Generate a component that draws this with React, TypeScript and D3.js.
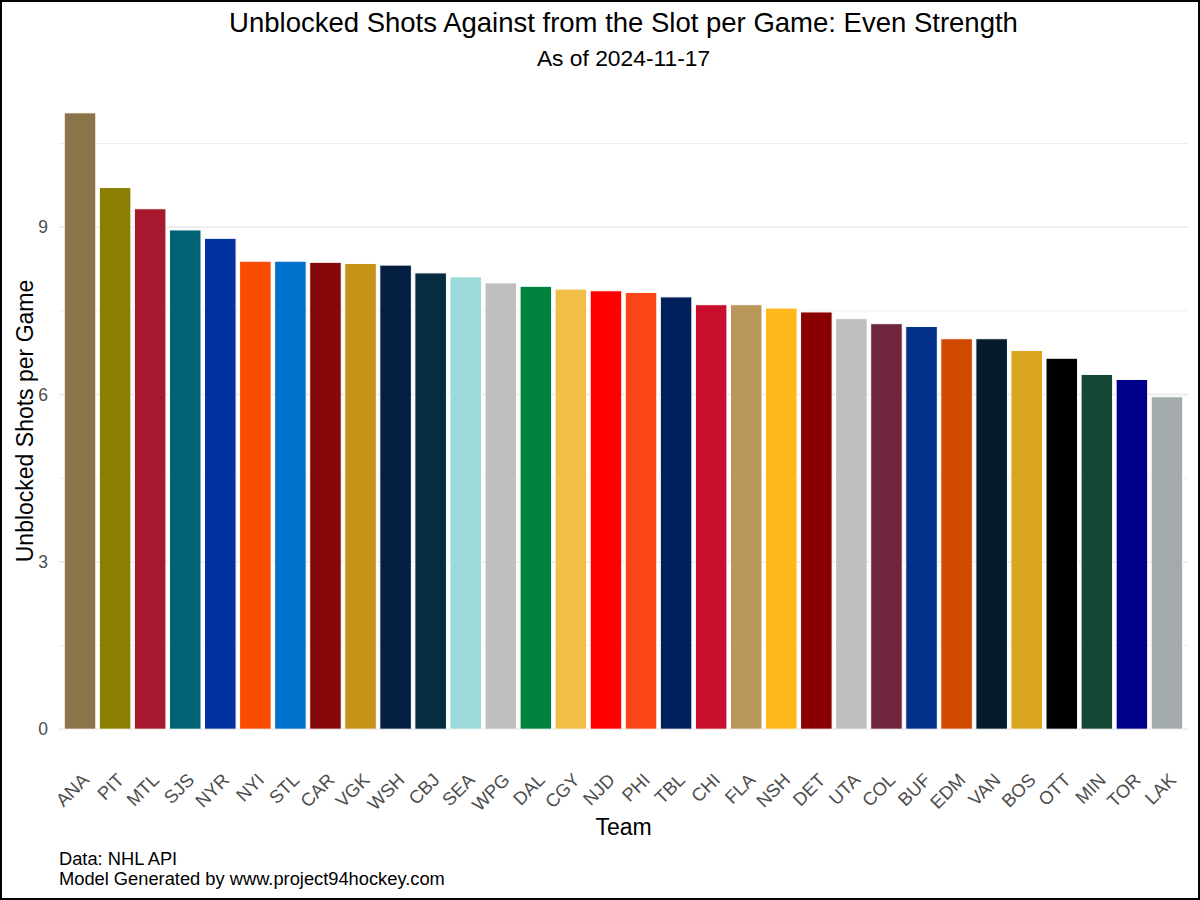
import React from 'react';
import * as d3 from 'd3';

const teams = ['ANA', 'PIT', 'MTL', 'SJS', 'NYR', 'NYI', 'STL', 'CAR', 'VGK', 'WSH', 'CBJ', 'SEA', 'WPG', 'DAL', 'CGY', 'NJD',
  'PHI', 'TBL', 'CHI', 'FLA', 'NSH', 'DET', 'UTA', 'COL', 'BUF', 'EDM', 'VAN', 'BOS', 'OTT', 'MIN', 'TOR', 'LAK'];

const shotsPerGame = [11.05, 9.71, 9.33, 8.95, 8.80, 8.39, 8.39, 8.37, 8.35, 8.32, 8.18, 8.11, 8.00, 7.94, 7.89, 7.86,
  7.83, 7.75, 7.61, 7.61, 7.55, 7.48, 7.36, 7.27, 7.22, 7.00, 7.00, 6.79, 6.65, 6.36, 6.27, 5.96];

const teamColors = ['#8B734A', '#8A7F00', '#A6192E', '#006272', '#0033A0', '#FC4C02', '#0072CE', '#870808', '#C59318',
  '#041E42', '#052C41', '#9ED9D9', '#BFBFBF', '#00843D', '#F1BE48', '#FF0000', '#FA4616', '#00205B', '#C8102E',
  '#B9975B', '#FFB81C', '#8A0000', '#BFBFBF', '#6F263D', '#003087', '#D04A02', '#041C2C', '#DAA520', '#000000',
  '#154734', '#00008B', '#A2AAAD'];

const majorTicks = [0, 3, 6, 9];
const minorTicks = [1.5, 4.5, 7.5, 10.5];

const W = 1200;
const H = 900;
const left = 59;
const right = 1188;
const top = 82;
const bottom = 760;
const font = '"Liberation Sans", Arial, sans-serif';

export default function App() {
  const yMax = d3.max(shotsPerGame) as number;
  const y = d3.scaleLinear()
    .domain([-0.05 * yMax, 1.05 * yMax])
    .range([bottom, top]);

  const x = d3.scaleBand()
    .domain(teams)
    .range([left, right])
    .paddingInner(0.1)
    .paddingOuter(0.15);

  const midX = (left + right) / 2;

  return (
    <svg width={W} height={H} style={{ position: 'absolute', left: 0, top: 0, fontFamily: font }}>
      <rect x={0} y={0} width={W} height={H} fill="#fff" />

      {/* gridlines */}
      {minorTicks.map(t => (
        <line key={'mn' + t} x1={left} x2={right} y1={y(t)} y2={y(t)} stroke="#EBEBEB" strokeWidth={0.9} />
      ))}
      {majorTicks.map(t => (
        <line key={'mj' + t} x1={left} x2={right} y1={y(t)} y2={y(t)} stroke="#EBEBEB" strokeWidth={1.8} />
      ))}

      {/* bars */}
      {teams.map((t, i) => (
        <rect key={t} x={x(t)} y={y(shotsPerGame[i])} width={x.bandwidth()}
          height={y(0) - y(shotsPerGame[i])} fill={teamColors[i]} stroke="#fff" strokeWidth={1} />
      ))}

      {/* y ticks */}
      {majorTicks.map(t => (
        <text key={'yt' + t} x={48} y={y(t)} dy="0.35em" textAnchor="end" fontSize={17.5} fill="#4D4D4D">{t}</text>
      ))}

      {/* x ticks */}
      {teams.map(t => {
        const cx = (x(t) as number) + x.bandwidth() / 2 + 1;
        const cy = 772;
        return (
          <text key={'xt' + t} transform={`translate(${cx},${cy}) rotate(-45)`} textAnchor="end" dy="0.7em"
            fontSize={18.4} fill="#4D4D4D">{t}</text>
        );
      })}

      {/* titles */}
      <text x={midX} y={32} textAnchor="middle" fontSize={27.5} fill="#000">
        Unblocked Shots Against from the Slot per Game: Even Strength
      </text>
      <text x={midX} y={66} textAnchor="middle" fontSize={22.8} fill="#000">As of 2024-11-17</text>
      <text x={midX} y={835} textAnchor="middle" fontSize={23} fill="#000">Team</text>
      <text transform={`translate(33,${(top + bottom) / 2}) rotate(-90)`} textAnchor="middle"
        fontSize={23} fill="#000">Unblocked Shots per Game</text>

      {/* caption */}
      <text x={left} y={865} fontSize={18.3} fill="#000">Data: NHL API</text>
      <text x={left} y={885} fontSize={18.3} fill="#000">Model Generated by www.project94hockey.com</text>

      <rect x={1} y={1} width={W - 2} height={H - 2} fill="none" stroke="#000" strokeWidth={2} />
    </svg>
  );
}
